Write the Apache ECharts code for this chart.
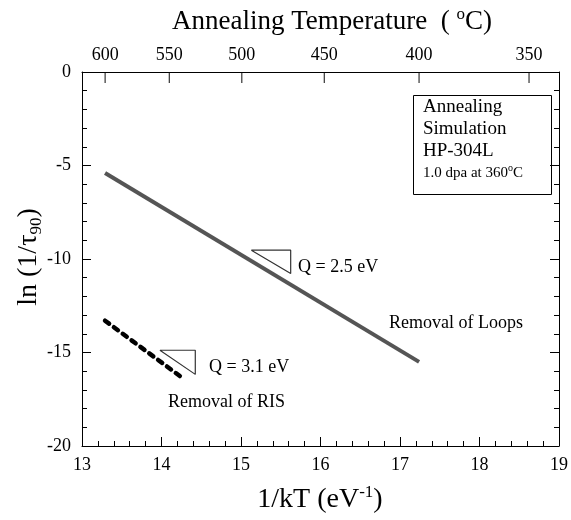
<!DOCTYPE html>
<html>
<head>
<meta charset="utf-8">
<script src="https://cdn.jsdelivr.net/npm/echarts@6/dist/echarts.min.js"></script>
<style>
  html, body { margin: 0; padding: 0; background: #fff; }
  #chart { width: 571px; height: 520px; }
</style>
</head>
<body>
<div id="chart"></div>
<script>
// (x = 1/kT in eV^-1, y = ln(1/tau90))
const loopsX = [13.29, 17.24]
const loopsY = [-5.4, -15.5]
const risX = [13.29, 14.26]
const risY = [-13.3, -16.35]
// slope triangles
const triLoopsX = [15.13, 15.625, 15.625, 15.13]
const triLoopsY = [-9.53, -9.53, -10.78, -9.53]
const triRisX = [13.98, 14.425, 14.425, 13.98]
const triRisY = [-14.88, -14.88, -16.17, -14.88]
// top axis tick labels in deg C
const tempTicks = [600, 550, 500, 450, 400, 350]

const kB = 8.617e-5
const tempPos = tempTicks.map(t => 1 / (kB * (t + 273.15)))
const pair = (xs, ys) => xs.map((x, i) => [x, ys[i]])

const font = 'Liberation Serif'
const chart = echarts.init(document.getElementById('chart'))

const lineSeries = (data, color, width, type) => ({
  type: 'line',
  data: data,
  symbol: 'none',
  silent: true,
  lineStyle: { color: color, width: width, type: type || 'solid', cap: type ? 'round' : 'butt' }
})

// inward ticks on the top axis at the temperature positions
const topTicks = {
  type: 'scatter',
  silent: true,
  clip: false,
  data: tempPos.map(x => [x, 0]),
  symbol: 'rect',
  symbolSize: [1.2, 11],
  symbolOffset: [0, 5.5],
  itemStyle: { color: '#000' },
  z: 10
}

chart.setOption({
  animation: false,
  grid: { left: 82, right: 9, top: 72, bottom: 74 },
  xAxis: [
    {
      type: 'value', position: 'bottom', min: 13, max: 19, interval: 1,
      axisLine: { onZero: false, lineStyle: { color: '#000', width: 1 } },
      axisTick: { inside: true, length: 9, lineStyle: { color: '#000' } },
      minorTick: { show: true, splitNumber: 5, length: 5, lineStyle: { color: '#000' } },
      axisLabel: { color: '#000', fontSize: 18, fontFamily: font, margin: 10 },
      splitLine: { show: false }
    },
    {
      type: 'value', position: 'top', min: 13, max: 19,
      axisLine: { onZero: false, lineStyle: { color: '#000', width: 1 } },
      axisTick: { show: false },
      minorTick: { show: false },
      axisLabel: {
        color: '#000', fontSize: 18, fontFamily: font, margin: 8,
        customValues: tempPos,
        formatter: v => String(Math.round(1 / (kB * v) - 273.15))
      },
      splitLine: { show: false }
    }
  ],
  yAxis: [
    {
      type: 'value', position: 'left', min: -20, max: 0, interval: 5,
      axisLine: { onZero: false, lineStyle: { color: '#000', width: 1 } },
      axisTick: { inside: true, length: 9, lineStyle: { color: '#000' } },
      minorTick: { show: true, splitNumber: 5, length: 5, lineStyle: { color: '#000' } },
      axisLabel: { color: '#000', fontSize: 18, fontFamily: font, margin: 11 },
      splitLine: { show: false }
    },
    {
      type: 'value', position: 'right', min: -20, max: 0, interval: 5,
      axisLine: { onZero: false, lineStyle: { color: '#000', width: 1 } },
      axisTick: { inside: true, length: 9, lineStyle: { color: '#000' } },
      minorTick: { show: true, splitNumber: 5, length: 5, lineStyle: { color: '#000' } },
      axisLabel: { show: false },
      splitLine: { show: false }
    }
  ],
  series: [
    lineSeries(pair(loopsX, loopsY), '#555', 4),
    lineSeries(pair(risX, risY), '#000', 4.5, [5, 6]),
    lineSeries(pair(triLoopsX, triLoopsY), '#333', 1.2),
    lineSeries(pair(triRisX, triRisY), '#333', 1.2),
    topTicks
  ],
  graphic: [
    {
      type: 'text', x: 332, y: 22,
      style: {
        text: '{a|Annealing Temperature  ( }{s|o}{a|C)}',
        align: 'center', verticalAlign: 'middle',
        rich: {
          a: { fontSize: 27, fontFamily: font, fill: '#000', lineHeight: 32 },
          s: { fontSize: 17, fontFamily: font, fill: '#000', lineHeight: 15, verticalAlign: 'top' }
        }
      }
    },
    {
      type: 'text', x: 320, y: 500,
      style: {
        text: '{a|1/kT (eV}{s|-1}{a|)}',
        align: 'center', verticalAlign: 'middle',
        rich: {
          a: { fontSize: 28, fontFamily: font, fill: '#000', lineHeight: 32 },
          s: { fontSize: 17, fontFamily: font, fill: '#000', lineHeight: 15, verticalAlign: 'top' }
        }
      }
    },
    {
      type: 'text', x: 29, y: 257, rotation: Math.PI / 2,
      style: {
        text: '{a|ln (1/τ}{s|90}{a|)}',
        align: 'center', verticalAlign: 'middle',
        rich: {
          a: { fontSize: 28, fontFamily: font, fill: '#000', lineHeight: 32 },
          s: { fontSize: 17, fontFamily: font, fill: '#000', lineHeight: 15, verticalAlign: 'bottom' }
        }
      }
    },
    {
      type: 'rect', shape: { x: 413.5, y: 95.5, width: 138, height: 99 },
      style: { fill: '#fff', stroke: '#000', lineWidth: 1 }
    },
    { type: 'text', x: 423, y: 107, style: { text: 'Annealing', fontSize: 19, fontFamily: font, fill: '#000', verticalAlign: 'middle' } },
    { type: 'text', x: 423, y: 129, style: { text: 'Simulation', fontSize: 19, fontFamily: font, fill: '#000', verticalAlign: 'middle' } },
    { type: 'text', x: 423, y: 151, style: { text: 'HP-304L', fontSize: 19, fontFamily: font, fill: '#000', verticalAlign: 'middle' } },
    {
      type: 'text', x: 423, y: 173,
      style: {
        text: '{a|1.0 dpa at 360}{s|o}{a|C}', verticalAlign: 'middle',
        rich: {
          a: { fontSize: 15, fontFamily: font, fill: '#000', lineHeight: 20 },
          s: { fontSize: 10, fontFamily: font, fill: '#000', lineHeight: 10, verticalAlign: 'top' }
        }
      }
    },
    { type: 'text', x: 298, y: 267, style: { text: 'Q = 2.5 eV', fontSize: 18, fontFamily: font, fill: '#000', verticalAlign: 'middle' } },
    { type: 'text', x: 209, y: 367, style: { text: 'Q = 3.1 eV', fontSize: 18, fontFamily: font, fill: '#000', verticalAlign: 'middle' } },
    { type: 'text', x: 168, y: 402, style: { text: 'Removal of RIS', fontSize: 18, fontFamily: font, fill: '#000', verticalAlign: 'middle' } },
    { type: 'text', x: 389, y: 323, style: { text: 'Removal of Loops', fontSize: 18, fontFamily: font, fill: '#000', verticalAlign: 'middle' } }
  ]
})
</script>
</body>
</html>
